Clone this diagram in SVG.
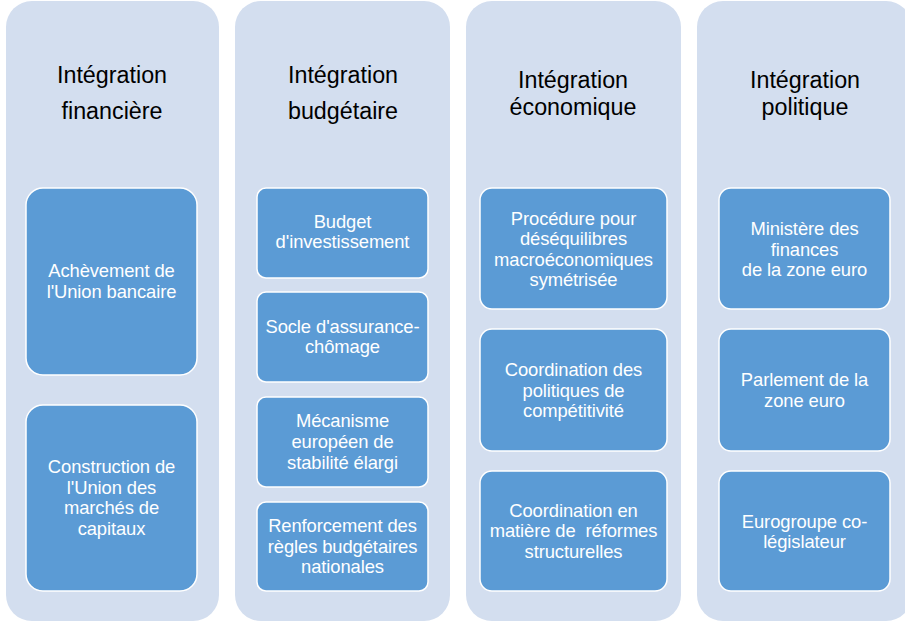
<svg xmlns="http://www.w3.org/2000/svg" width="905" height="622" viewBox="0 0 905 622">
  <style>
    .col { fill: #D3DEEF; }
    .box { fill: #5B9BD5; stroke: #FFFFFF; stroke-width: 1.5; }
    .title { font-family: "Liberation Sans", Arial, sans-serif; font-size: 23.3px; fill: #000000; text-anchor: middle; }
    .label { font-family: "Liberation Sans", Arial, sans-serif; font-size: 18.4px; fill: #FFFFFF; text-anchor: middle; letter-spacing: -0.1px; }
  </style>
  <rect width="905" height="622" fill="#FFFFFF"/>

  <!-- Column 1: financial integration -->
  <g id="col-financiere">
    <rect class="col" x="6" y="1" width="213" height="620" rx="26"/>
    <text class="title" x="112" y="83">Intégration</text>
    <text class="title" x="112" y="119">financière</text>
  </g>
  <g id="union-bancaire">
    <rect class="box" x="26" y="188" width="171" height="187" rx="17"/>
    <text class="label" x="111.5" y="277">Achèvement de</text>
    <text class="label" x="111.5" y="298">l'Union bancaire</text>
  </g>
  <g id="union-marches-capitaux">
    <rect class="box" x="26" y="405" width="171" height="186" rx="17"/>
    <text class="label" x="111.5" y="473">Construction de</text>
    <text class="label" x="111.5" y="494">l'Union des</text>
    <text class="label" x="111.5" y="514">marchés de</text>
    <text class="label" x="111.5" y="535">capitaux</text>
  </g>

  <!-- Column 2: budgetary integration -->
  <g id="col-budgetaire">
    <rect class="col" x="235" y="1" width="215" height="620" rx="26"/>
    <text class="title" x="343" y="83">Intégration</text>
    <text class="title" x="343" y="119">budgétaire</text>
  </g>
  <g id="budget-investissement">
    <rect class="box" x="257" y="188" width="171" height="90" rx="9"/>
    <text class="label" x="342.5" y="228">Budget</text>
    <text class="label" x="342.5" y="248">d'investissement</text>
  </g>
  <g id="assurance-chomage">
    <rect class="box" x="257" y="292" width="171" height="90" rx="9"/>
    <text class="label" x="342.5" y="333">Socle d'assurance-</text>
    <text class="label" x="342.5" y="353">chômage</text>
  </g>
  <g id="mecanisme-stabilite">
    <rect class="box" x="257" y="397" width="171" height="90" rx="9"/>
    <text class="label" x="342.5" y="427">Mécanisme</text>
    <text class="label" x="342.5" y="448">européen de</text>
    <text class="label" x="342.5" y="469">stabilité élargi</text>
  </g>
  <g id="regles-budgetaires">
    <rect class="box" x="257" y="502" width="171" height="89" rx="9"/>
    <text class="label" x="342.5" y="532">Renforcement des</text>
    <text class="label" x="342.5" y="553">règles budgétaires</text>
    <text class="label" x="342.5" y="573">nationales</text>
  </g>

  <!-- Column 3: economic integration -->
  <g id="col-economique">
    <rect class="col" x="466" y="1" width="215" height="620" rx="26"/>
    <text class="title" x="573" y="88">Intégration</text>
    <text class="title" x="573" y="115">économique</text>
  </g>
  <g id="desequilibres-macro">
    <rect class="box" x="480" y="188" width="187" height="121" rx="12"/>
    <text class="label" x="573.5" y="225">Procédure pour</text>
    <text class="label" x="573.5" y="245">déséquilibres</text>
    <text class="label" x="573.5" y="266">macroéconomiques</text>
    <text class="label" x="573.5" y="286">symétrisée</text>
  </g>
  <g id="competitivite">
    <rect class="box" x="480" y="329" width="187" height="122" rx="12"/>
    <text class="label" x="573.5" y="376">Coordination des</text>
    <text class="label" x="573.5" y="397">politiques de</text>
    <text class="label" x="573.5" y="417">compétitivité</text>
  </g>
  <g id="reformes-structurelles">
    <rect class="box" x="480" y="471" width="187" height="120" rx="12"/>
    <text class="label" x="573.5" y="517">Coordination en</text>
    <text class="label" x="573.5" y="537" xml:space="preserve">matière de  réformes</text>
    <text class="label" x="573.5" y="558">structurelles</text>
  </g>

  <!-- Column 4: political integration -->
  <g id="col-politique">
    <rect class="col" x="697" y="1" width="215" height="620" rx="26"/>
    <text class="title" x="805" y="88">Intégration</text>
    <text class="title" x="805" y="115">politique</text>
  </g>
  <g id="ministere-finances">
    <rect class="box" x="719" y="188" width="171" height="121" rx="12"/>
    <text class="label" x="804.5" y="235">Ministère des</text>
    <text class="label" x="804.5" y="256">finances</text>
    <text class="label" x="804.5" y="276">de la zone euro</text>
  </g>
  <g id="parlement-zone-euro">
    <rect class="box" x="719" y="329" width="171" height="122" rx="12"/>
    <text class="label" x="804.5" y="386">Parlement de la</text>
    <text class="label" x="804.5" y="407">zone euro</text>
  </g>
  <g id="eurogroupe">
    <rect class="box" x="719" y="471" width="171" height="120" rx="12"/>
    <text class="label" x="804.5" y="528">Eurogroupe co-</text>
    <text class="label" x="804.5" y="548">législateur</text>
  </g>

  <!-- No connectors are drawn between the nodes -->
  <g id="connectors"/>
</svg>
